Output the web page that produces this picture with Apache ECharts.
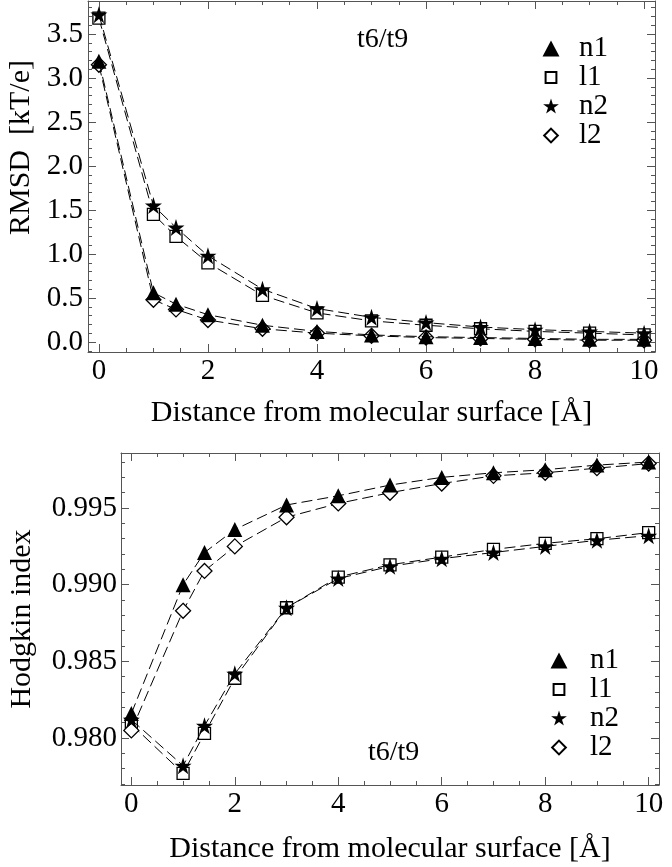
<!DOCTYPE html>
<html>
<head>
<meta charset="utf-8">
<script src="https://cdn.jsdelivr.net/npm/echarts@6/dist/echarts.min.js"></script>
<style>
html,body{margin:0;padding:0;background:#fff;}
#chart{width:672px;height:867px;}
</style>
</head>
<body>
<div id="chart"></div>
<script>
// ---- data ----
const distances = [0, 1, 1.414, 2, 3, 4, 5, 6, 7, 8, 9, 10];
const seriesNames = ['n1', 'l1', 'n2', 'l2'];

const rmsdN1 = [3.19, 0.56, 0.43, 0.31, 0.19, 0.12, 0.08, 0.06, 0.05, 0.04, 0.03, 0.03];
const rmsdL1 = [3.68, 1.45, 1.20, 0.90, 0.53, 0.33, 0.24, 0.19, 0.15, 0.12, 0.10, 0.08];
const rmsdN2 = [3.72, 1.55, 1.30, 0.98, 0.60, 0.38, 0.28, 0.22, 0.17, 0.14, 0.12, 0.10];
const rmsdL2 = [3.15, 0.48, 0.37, 0.25, 0.15, 0.10, 0.07, 0.05, 0.04, 0.03, 0.02, 0.02];

const hodN1 = [0.9816, 0.9900, 0.9921, 0.9936, 0.9952, 0.9958, 0.9965, 0.9970, 0.9973, 0.9975, 0.9978, 0.9980];
const hodL1 = [0.9809, 0.9777, 0.9803, 0.9839, 0.9885, 0.9905, 0.9913, 0.9918, 0.9923, 0.9927, 0.9930, 0.9934];
const hodN2 = [0.9812, 0.9782, 0.9808, 0.9842, 0.9885, 0.9904, 0.9912, 0.9917, 0.9921, 0.9925, 0.9929, 0.9932];
const hodL2 = [0.9805, 0.9883, 0.9909, 0.9925, 0.9944, 0.9953, 0.9960, 0.9966, 0.9971, 0.9973, 0.9976, 0.9979];

const xMajorTicks = [0, 2, 4, 6, 8, 10];
const rmsdMajorTicks = [0, 0.5, 1.0, 1.5, 2.0, 2.5, 3.0, 3.5];
const hodMajorTicks = [0.980, 0.985, 0.990, 0.995];

// minor ticks
function range(a, b, step) { const r = []; for (let v = a; v <= b + 1e-9; v += step) r.push(+v.toFixed(6)); return r; }
const xMinorTicks = range(0, 10, 0.5);
const rmsdMinorTicks = range(-0.1, 3.8, 0.1);
const hodMinorTicks = range(0.977, 0.998, 0.001);

const FONT = '"Liberation Serif", "DejaVu Serif", serif';
const AX = '#555';
const STAR = 'path://M50,0 L61.2,34.5 L97.6,34.5 L68.2,55.9 L79.4,90.5 L50,69.1 L20.6,90.5 L31.8,55.9 L2.4,34.5 L38.8,34.5 Z';

const symbols = {
  n1: {symbol: 'triangle', size: 15, fill: '#000', z: 4,
       legendIcon: 'path://M0,0 M100,100 M50,6 L97,94 L3,94 Z'},
  l1: {symbol: 'rect', size: 12, fill: '#fff', z: 2,
       legendIcon: 'path://M0,0 M100,100 M20,20 L80,20 L80,80 L20,80 Z'},
  n2: {symbol: STAR, size: 17, fill: '#000', z: 4,
       legendIcon: 'path://M0,0 M100,100 M50,6 L60.3,37.8 L93.7,37.8 L66.7,57.4 L77,89.2 L50,69.5 L23,89.2 L33.3,57.4 L6.3,37.8 L39.7,37.8 Z'},
  l2: {symbol: 'diamond', size: 15, fill: '#fff', z: 2,
       legendIcon: 'path://M0,0 M100,100 M50,12 L88,50 L50,88 L12,50 Z'}
};

const grids = [
  {left: 88, top: 1, width: 567, height: 351, outerBoundsMode: 'none', containLabel: false},
  {left: 121, top: 453, width: 538, height: 332, outerBoundsMode: 'none', containLabel: false}
];

const xRange = {min: -0.2, max: 10.2};
const yRanges = [{min: -0.114, max: 3.875}, {min: 0.97694, max: 0.99859}];

const xAxes = [], yAxes = [];
function makeXAxes(g, name, nameGap) {
  const base = {gridIndex: g, type: 'value', min: xRange.min, max: xRange.max, splitLine: {show: false}};
  const mainIdx = xAxes.length;
  xAxes.push(Object.assign({}, base, {
    position: 'bottom',
    axisLine: {show: true, onZero: false, lineStyle: {color: AX, width: 1}},
    axisTick: {show: true, inside: true, length: 8, customValues: xMajorTicks, lineStyle: {color: AX}},
    axisLabel: {show: true, customValues: xMajorTicks, margin: 5, color: '#000', fontFamily: FONT, fontSize: 29},
    name: name, nameLocation: 'middle', nameGap: nameGap,
    nameTextStyle: {color: '#000', fontFamily: FONT, fontSize: 30}
  }));
  xAxes.push(Object.assign({}, base, {
    position: 'bottom', axisLine: {show: false, onZero: false},
    axisTick: {show: true, inside: true, length: 4, customValues: xMinorTicks, lineStyle: {color: AX}},
    axisLabel: {show: false}
  }));
  xAxes.push(Object.assign({}, base, {
    position: 'top',
    axisLine: {show: true, onZero: false, lineStyle: {color: AX, width: 1}},
    axisTick: {show: true, inside: true, length: 8, customValues: xMajorTicks, lineStyle: {color: AX}},
    axisLabel: {show: false}
  }));
  xAxes.push(Object.assign({}, base, {
    position: 'top', axisLine: {show: false, onZero: false},
    axisTick: {show: true, inside: true, length: 4, customValues: xMinorTicks, lineStyle: {color: AX}},
    axisLabel: {show: false}
  }));
  return mainIdx;
}
function makeYAxes(g, name, nameGap, namePad, majors, minors, decimals, labelMargin) {
  const base = {gridIndex: g, type: 'value', min: yRanges[g].min, max: yRanges[g].max, splitLine: {show: false}};
  const mainIdx = yAxes.length;
  yAxes.push(Object.assign({}, base, {
    position: 'left',
    axisLine: {show: true, onZero: false, lineStyle: {color: AX, width: 1}},
    axisTick: {show: true, inside: true, length: 8, customValues: majors, lineStyle: {color: AX}},
    axisLabel: {show: true, customValues: majors, margin: labelMargin, color: '#000', fontFamily: FONT, fontSize: 29,
      formatter: v => Number(v).toFixed(decimals)},
    name: name, nameLocation: 'middle', nameGap: nameGap,
    nameTextStyle: {color: '#000', fontFamily: FONT, fontSize: 30, padding: namePad}
  }));
  yAxes.push(Object.assign({}, base, {
    position: 'left', axisLine: {show: false, onZero: false},
    axisTick: {show: true, inside: true, length: 4, customValues: minors, lineStyle: {color: AX}},
    axisLabel: {show: false}
  }));
  yAxes.push(Object.assign({}, base, {
    position: 'right',
    axisLine: {show: true, onZero: false, lineStyle: {color: AX, width: 1}},
    axisTick: {show: true, inside: true, length: 8, customValues: majors, lineStyle: {color: AX}},
    axisLabel: {show: false}
  }));
  yAxes.push(Object.assign({}, base, {
    position: 'right', axisLine: {show: false, onZero: false},
    axisTick: {show: true, inside: true, length: 4, customValues: minors, lineStyle: {color: AX}},
    axisLabel: {show: false}
  }));
  return mainIdx;
}

const x0 = makeXAxes(0, 'Distance from molecular surface [Å]', 46);
const y0 = makeYAxes(0, 'RMSD  [kT/e]', 51, [0, 0, 0, 58], rmsdMajorTicks, rmsdMinorTicks, 1, 5);
const x1 = makeXAxes(1, 'Distance from molecular surface [Å]', 49);
const y1 = makeYAxes(1, 'Hodgkin index', 84, 0, hodMajorTicks, hodMinorTicks, 3, 4);

function zip(xs, ys) { return xs.map((x, i) => [x, ys[i]]); }

function mkSeries(name, vals, xi, yi) {
  const s = symbols[name];
  return {
    name: name, type: 'line', xAxisIndex: xi, yAxisIndex: yi,
    data: zip(distances, vals),
    symbol: s.symbol, symbolSize: s.size, showAllSymbol: true,
    itemStyle: {color: s.fill, borderColor: '#000', borderWidth: s.fill === '#fff' ? 1.3 : 0, opacity: 1},
    lineStyle: {color: '#000', width: 1, type: [11, 5]},
    emphasis: {disabled: true}, animation: false, z: s.z
  };
}

// draw hollow markers first, filled ones on top
const series = [
  mkSeries('l1', rmsdL1, x0, y0),
  mkSeries('l2', rmsdL2, x0, y0),
  mkSeries('n1', rmsdN1, x0, y0),
  mkSeries('n2', rmsdN2, x0, y0),
  mkSeries('l1', hodL1, x1, y1),
  mkSeries('l2', hodL2, x1, y1),
  mkSeries('n1', hodN1, x1, y1),
  mkSeries('n2', hodN2, x1, y1)
];

function mkLegend(left, top, lineH, pad) {
  return {
    orient: 'vertical', left: left, top: top,
    itemWidth: 18, itemHeight: 18, itemGap: 0,
    selectedMode: false, symbolKeepAspect: true,
    data: seriesNames.map(n => ({name: n, icon: symbols[n].legendIcon})),
    textStyle: {color: '#000', fontFamily: FONT, fontSize: 29, lineHeight: lineH, padding: [0, 0, 0, pad]}
  };
}

const option = {
  animation: false,
  backgroundColor: '#fff',
  grid: grids,
  xAxis: xAxes,
  yAxis: yAxes,
  legend: [mkLegend(536, 29, 28, 14), mkLegend(544, 641, 27, 17)],
  series: series,
  graphic: [
    {type: 'text', left: 357, top: 26, style: {text: 't6/t9', font: '28px ' + FONT, fill: '#000'}},
    {type: 'text', left: 368, top: 739, style: {text: 't6/t9', font: '28px ' + FONT, fill: '#000'}}
  ]
};

const chart = echarts.init(document.getElementById('chart'), null, {renderer: 'canvas'});
chart.setOption(option);
</script>
</body>
</html>
